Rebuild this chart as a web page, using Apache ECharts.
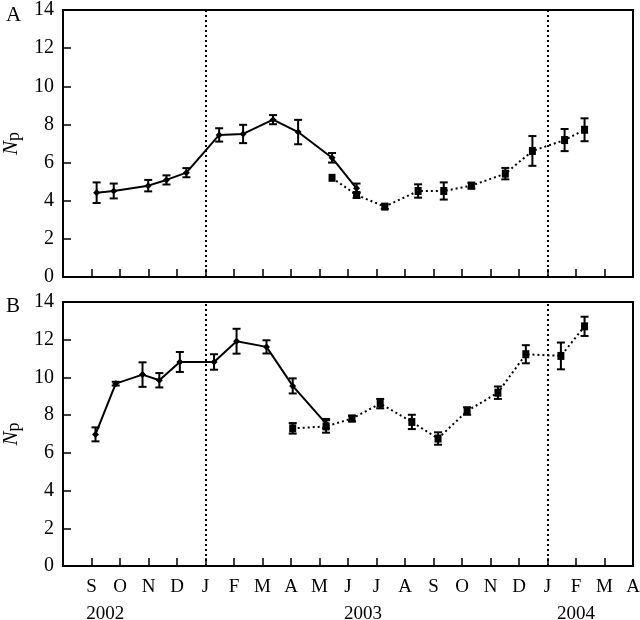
<!DOCTYPE html>
<html>
<head>
<meta charset="utf-8">
<script src="https://cdn.jsdelivr.net/npm/echarts@6/dist/echarts.min.js"></script>
<style>html,body{margin:0;padding:0;background:#fff}#c{width:640px;height:620px}</style>
</head>
<body>
<div id="c"></div>
<script>
// Month tick labels (index 0 = Sep 2002 ... 19 = Apr 2004)
var months = ['S','O','N','D','J','F','M','A','M','J','J','A','S','O','N','D','J','F','M','A'];
var years = ['2002','2003','2004'];
var yearAt = [0.48, 9.53, 17.0];
var yearBreaks = [4, 16];

// Panel A, solid series
var aSolidX   = [0.18, 0.78, 1.99, 2.63, 3.33, 4.48, 5.32, 6.37, 7.25, 8.44, 9.30];
var aSolidY   = [4.42, 4.51, 4.79, 5.09, 5.47, 7.45, 7.50, 8.25, 7.60, 6.25, 4.65];
var aSolidErr = [0.54, 0.39, 0.30, 0.24, 0.24, 0.35, 0.48, 0.24, 0.64, 0.25, 0.25];
// Panel A, dotted series
var aDotX   = [8.44, 9.30, 10.29, 11.46, 12.36, 13.33, 14.52, 15.47, 16.60, 17.30];
var aDotY   = [5.20, 4.30, 3.69, 4.51, 4.51, 4.79, 5.42, 6.61, 7.18, 7.72];
var aDotErr = [0.00, 0.15, 0.12, 0.35, 0.45, 0.15, 0.30, 0.78, 0.58, 0.60];
// Panel B, solid series
var bSolidX   = [0.14, 0.85, 1.79, 2.38, 3.10, 4.30, 5.09, 6.14, 7.06, 8.23];
var bSolidY   = [6.98, 9.67, 10.15, 9.85, 10.82, 10.82, 11.92, 11.62, 9.55, 7.55];
var bSolidErr = [0.37, 0.10, 0.65, 0.38, 0.53, 0.41, 0.66, 0.35, 0.40, 0.25];
// Panel B, dotted series
var bDotX   = [7.06, 8.23, 9.14, 10.13, 11.24, 12.16, 13.18, 14.26, 15.24, 16.47, 17.30];
var bDotY   = [7.30, 7.40, 7.82, 8.61, 7.64, 6.76, 8.22, 9.19, 11.23, 11.14, 12.71];
var bDotErr = [0.28, 0.33, 0.15, 0.25, 0.38, 0.33, 0.20, 0.33, 0.48, 0.71, 0.51];

var FONT = 'Liberation Serif';

function pts(xs, ys) { return xs.map(function (x, i) { return [x, ys[i]]; }); }
function errs(xs, ys, es) { return xs.map(function (x, i) { return [x, ys[i], es[i]]; }); }

function errRender(params, api) {
  var x = api.value(0), y = api.value(1), e = api.value(2);
  if (!e) return null;
  var top = api.coord([x, y + e]);
  var bot = api.coord([x, y - e]);
  var hw = 4;
  var st = { stroke: '#000', lineWidth: 2 };
  return {
    type: 'group',
    children: [
      { type: 'line', shape: { x1: top[0], y1: top[1], x2: bot[0], y2: bot[1] }, style: st },
      { type: 'line', shape: { x1: top[0] - hw, y1: top[1], x2: top[0] + hw, y2: top[1] }, style: st },
      { type: 'line', shape: { x1: bot[0] - hw, y1: bot[1], x2: bot[0] + hw, y2: bot[1] }, style: st }
    ]
  };
}

function xAxisDef(gi, showLabels) {
  return {
    type: 'value', gridIndex: gi, min: -1, max: 19, interval: 1,
    axisLine: { show: true, onZero: false, lineStyle: { color: '#000', width: 2 } },
    axisTick: { show: true, inside: true, length: 8, lineStyle: { color: '#000', width: 1.5 } },
    splitLine: { show: false },
    axisLabel: {
      show: showLabels, color: '#000', fontFamily: FONT, fontSize: 19, margin: 12,
      showMinLabel: true, showMaxLabel: true, hideOverlap: false,
      formatter: function (v) { return (v >= 0 && v < months.length) ? months[v] : ''; }
    }
  };
}

function yAxisDef(gi) {
  return {
    type: 'value', gridIndex: gi, min: 0, max: 14, interval: 2,
    axisLine: { show: true, onZero: false, lineStyle: { color: '#000', width: 2 } },
    axisTick: { show: true, inside: true, length: 8, lineStyle: { color: '#000', width: 1.5 } },
    splitLine: { show: false },
    axisLabel: { color: '#000', fontFamily: FONT, fontSize: 20, margin: 9 },
    name: '{n|N}{p|p}',
    nameLocation: 'middle', nameRotate: 90, nameGap: 34,
    nameTextStyle: {
      rich: {
        n: { fontFamily: FONT, fontSize: 21, fontStyle: 'italic', color: '#000' },
        p: { fontFamily: FONT, fontSize: 18, color: '#000', padding: [6, 0, 0, 0] }
      }
    }
  };
}

function solidSeries(xi, yi, data) {
  return {
    type: 'line', xAxisIndex: xi, yAxisIndex: yi, data: data,
    symbol: 'diamond', symbolSize: 7, showSymbol: true,
    itemStyle: { color: '#000' },
    lineStyle: { color: '#000', width: 2 }, z: 3
  };
}
function dotSeries(xi, yi, data, brk) {
  return {
    type: 'line', xAxisIndex: xi, yAxisIndex: yi, data: data,
    symbol: 'rect', symbolSize: [7, 8], showSymbol: true,
    itemStyle: { color: '#000' },
    lineStyle: { color: '#000', width: 2, type: [2, 3] }, z: 3,
    markLine: {
      silent: true, symbol: 'none', label: { show: false },
      lineStyle: { color: '#000', width: 2, type: [2, 3] },
      data: brk.map(function (v) { return { xAxis: v }; })
    }
  };
}
function errSeries(xi, yi, data) {
  return { type: 'custom', xAxisIndex: xi, yAxisIndex: yi, data: data, renderItem: errRender, z: 2 };
}

var chart = echarts.init(document.getElementById('c'), null, { renderer: 'canvas' });
chart.setOption({
  animation: false,
  backgroundColor: '#fff',
  title: [
    { text: 'A', left: 1, top: 0, textStyle: { fontFamily: FONT, fontSize: 21, fontWeight: 'normal', color: '#000' } },
    { text: 'B', left: 1, top: 291, textStyle: { fontFamily: FONT, fontSize: 21, fontWeight: 'normal', color: '#000' } }
  ],
  grid: [
    { left: 63, top: 10, width: 570, height: 267, show: true, borderColor: '#000', borderWidth: 2, outerBoundsMode: 'none', containLabel: false },
    { left: 63, top: 302, width: 570, height: 264, show: true, borderColor: '#000', borderWidth: 2, outerBoundsMode: 'none', containLabel: false }
  ],
  xAxis: [
    xAxisDef(0, false),
    xAxisDef(1, true),
    {
      type: 'value', gridIndex: 1, min: -1, max: 19, position: 'bottom', offset: 27,
      axisLine: { show: false }, axisTick: { show: false }, splitLine: { show: false },
      axisLabel: {
        color: '#000', fontFamily: FONT, fontSize: 19, margin: 12,
        customValues: yearAt,
        formatter: function (v) { var i = yearAt.indexOf(v); return i >= 0 ? years[i] : ''; }
      }
    }
  ],
  yAxis: [yAxisDef(0), yAxisDef(1)],
  series: [
    errSeries(0, 0, errs(aSolidX, aSolidY, aSolidErr)),
    errSeries(0, 0, errs(aDotX, aDotY, aDotErr)),
    solidSeries(0, 0, pts(aSolidX, aSolidY)),
    dotSeries(0, 0, pts(aDotX, aDotY), yearBreaks),
    errSeries(1, 1, errs(bSolidX, bSolidY, bSolidErr)),
    errSeries(1, 1, errs(bDotX, bDotY, bDotErr)),
    solidSeries(1, 1, pts(bSolidX, bSolidY)),
    dotSeries(1, 1, pts(bDotX, bDotY), yearBreaks)
  ]
});
</script>
</body>
</html>
